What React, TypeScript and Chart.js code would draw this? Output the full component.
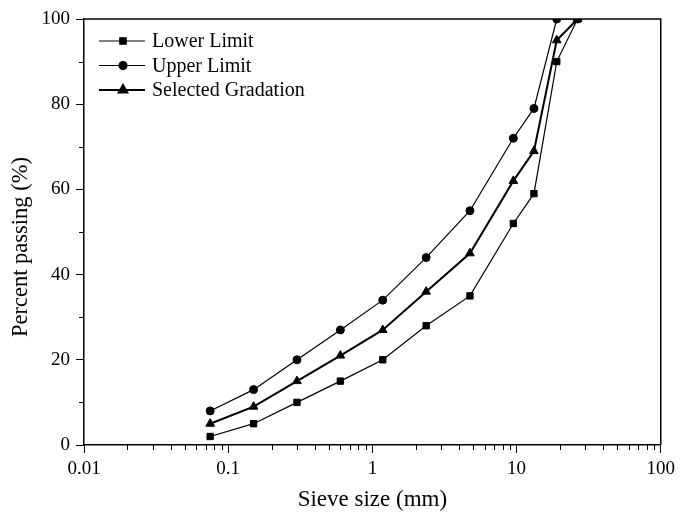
import React, { useEffect, useRef } from 'react';
import { Chart, registerables } from 'chart.js';
import { drawPoint } from 'chart.js/helpers';

Chart.register(...registerables);

const sieveSizes = [0.075, 0.15, 0.3, 0.6, 1.18, 2.36, 4.75, 9.5, 13.2, 19, 26.5];
const lowerLimit = [2, 5, 10, 15, 20, 28, 35, 52, 59, 90, 100];
const upperLimit = [8, 13, 20, 27, 34, 44, 55, 72, 79, 100, 100];
const selectedGradation = [5, 9, 15, 21, 27, 36, 45, 62, 69, 95, 100];

const xMajorTicks = [0.01, 0.1, 1, 10, 100];
const xTickLabels = ['0.01', '0.1', '1', '10', '100'];
const xMinorMultipliers = [2, 3, 4, 5, 6, 7, 8, 9];
const yMajorTicks = [0, 20, 40, 60, 80, 100];
const yMinorTicks = [10, 30, 50, 70, 90];
const yTitle = 'Percent passing (%)';
const xTitle = 'Sieve size (mm)';

const FONT = '"Liberation Serif", "Times New Roman", serif';

const framePlugin = {
  id: 'frameAndMinor',
  afterDraw(chart: any) {
    const { ctx, chartArea } = chart;
    const { left, right, top, bottom } = chartArea;
    ctx.save();
    ctx.strokeStyle = '#000';
    ctx.lineWidth = 1.5;
    ctx.beginPath();
    ctx.moveTo(left, top);
    ctx.lineTo(right, top);
    ctx.lineTo(right, bottom);
    ctx.stroke();
    // minor ticks
    ctx.lineWidth = 1;
    const xs = chart.scales.x;
    const ys = chart.scales.y;
    ctx.beginPath();
    for (let i = 0; i < xMajorTicks.length - 1; i++) {
      for (const m of xMinorMultipliers) {
        const px = Math.round(xs.getPixelForValue(xMajorTicks[i] * m)) + 0.5;
        ctx.moveTo(px, bottom);
        ctx.lineTo(px, bottom + 5);
      }
    }
    for (const v of yMinorTicks) {
      const py = Math.round(ys.getPixelForValue(v)) + 0.5;
      ctx.moveTo(left, py);
      ctx.lineTo(left - 5, py);
    }
    ctx.stroke();

    // y axis title
    ctx.save();
    ctx.translate(21, (top + bottom) / 2 + 15);
    ctx.rotate(-Math.PI / 2);
    ctx.fillStyle = '#000';
    ctx.font = `22.5px ${FONT}`;
    ctx.textAlign = 'center';
    ctx.textBaseline = 'middle';
    ctx.fillText(yTitle, 0, 0);
    ctx.restore();

    // legend
    const datasets = chart.data.datasets;
    datasets.forEach((ds: any, i: number) => {
      const y = top + 22 + i * 24.5;
      ctx.strokeStyle = '#000';
      ctx.lineWidth = ds.borderWidth;
      ctx.beginPath();
      ctx.moveTo(left + 15, y);
      ctx.lineTo(left + 61, y);
      ctx.stroke();
      ctx.fillStyle = '#000';
      drawPoint(ctx, { pointStyle: ds.pointStyle, radius: ds.pointRadius, rotation: 0, borderWidth: 1 }, left + 39, y);
      ctx.fillStyle = '#000';
      ctx.font = `20px ${FONT}`;
      ctx.textBaseline = 'middle';
      ctx.textAlign = 'left';
      ctx.fillText(ds.label, left + 68, y + 1);
    });
    ctx.restore();
  },
};

export default function App() {
  const ref = useRef<HTMLCanvasElement>(null);
  useEffect(() => {
    if (!ref.current) return;
    const mk = (arr: number[]) => sieveSizes.map((x, i) => ({ x, y: arr[i] }));
    const common = {
      borderColor: '#000',
      backgroundColor: '#000',
      pointBackgroundColor: '#000',
      pointBorderColor: '#000',
      pointBorderWidth: 1,
      tension: 0,
      fill: false,
    };
    const chart = new Chart(ref.current, {
      type: 'line',
      data: {
        datasets: [
          { ...common, label: 'Lower Limit', data: mk(lowerLimit), borderWidth: 1.2, pointStyle: 'rect', pointRadius: 4.5 },
          { ...common, label: 'Upper Limit', data: mk(upperLimit), borderWidth: 1.2, pointStyle: 'circle', pointRadius: 4 },
          { ...common, label: 'Selected Gradation', data: mk(selectedGradation), borderWidth: 2, pointStyle: 'triangle', pointRadius: 5 },
        ],
      },
      options: {
        animation: false,
        responsive: false,
        maintainAspectRatio: false,
        layout: { padding: { left: 0, top: 19, right: 16, bottom: 0 } },
        plugins: { legend: { display: false }, tooltip: { enabled: false } },
        scales: {
          x: {
            type: 'logarithmic',
            min: 0.01,
            max: 100,
            afterBuildTicks: (scale: any) => {
              scale.ticks = xMajorTicks.map((v) => ({ value: v, major: true }));
            },
            afterFit: (scale: any) => {
              scale.height = 69;
            },
            ticks: {
              autoSkip: false,
              maxRotation: 0,
              color: '#000',
              padding: 5,
              font: { family: FONT, size: 19 },
              callback: (_v: any, i: number) => xTickLabels[i],
            },
            grid: { drawOnChartArea: false, drawTicks: true, tickLength: 8, color: '#000', lineWidth: 1 },
            border: { display: true, color: '#000', width: 1.5 },
            title: {
              display: true,
              text: xTitle,
              color: '#000',
              font: { family: FONT, size: 23 },
              padding: { top: 0, bottom: 0 },
            },
          },
          y: {
            type: 'linear',
            min: 0,
            max: 100,
            afterBuildTicks: (scale: any) => {
              scale.ticks = yMajorTicks.map((v) => ({ value: v }));
            },
            afterFit: (scale: any) => {
              scale.width = 84;
            },
            ticks: {
              color: '#000',
              padding: 6,
              font: { family: FONT, size: 19 },
            },
            grid: { drawOnChartArea: false, drawTicks: true, tickLength: 8, color: '#000', lineWidth: 1 },
            border: { display: true, color: '#000', width: 1.5 },
            title: { display: false },
          },
        },
      },
      plugins: [framePlugin],
    } as any);
    return () => chart.destroy();
  }, []);
  return (
    <div style={{ position: 'absolute', left: 0, top: 0, width: 680, height: 514, background: '#fff' }}>
      <canvas ref={ref} width={680} height={514} />
    </div>
  );
}
